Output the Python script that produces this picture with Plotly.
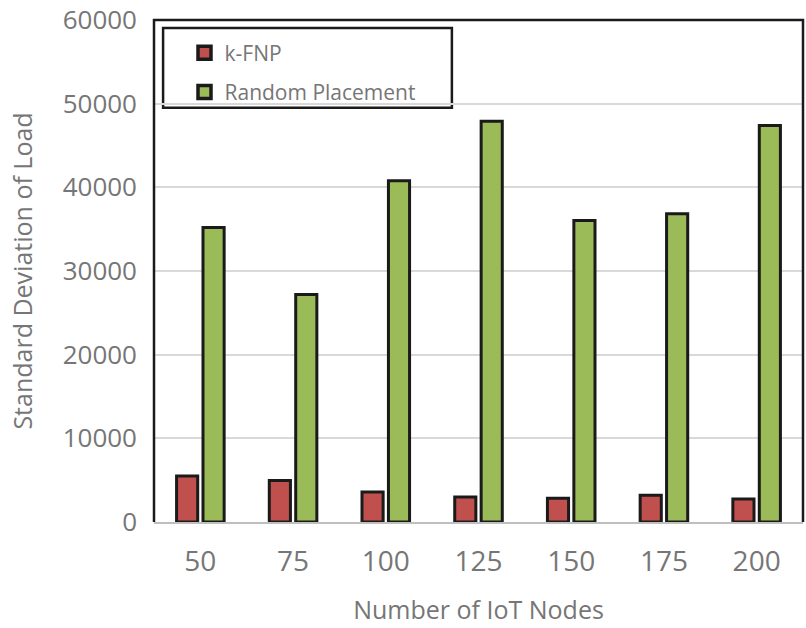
import plotly.graph_objects as go

# Number of IoT nodes on the x axis
nodes = ["50", "75", "100", "125", "150", "175", "200"]

# Standard deviation of load per placement strategy
kfnp = [5500, 4950, 3600, 3000, 2850, 3200, 2750]
random_placement = [35200, 27200, 40800, 47900, 36050, 36850, 47400]

y_ticks = [0, 10000, 20000, 30000, 40000, 50000, 60000]

FONT = "Open Sans"
GRAY = "#767676"
OUTLINE = "#1a1a1a"
RED = "#c0504d"
GREEN = "#9bbb59"

series = [("k-FNP", kfnp, RED, "a"), ("Random Placement", random_placement, GREEN, "b")]

fig = go.Figure()
for name, values, color, group in series:
    fig.add_trace(go.Bar(
        x=nodes, y=values, name=name, legendgroup=group, showlegend=False,
        marker=dict(color=color, line=dict(color=OUTLINE, width=3)),
    ))
# legend entries with large outlined square swatches
for name, values, color, group in series:
    fig.add_trace(go.Scatter(
        x=[None], y=[None], mode="markers", name=name, legendgroup=group,
        marker=dict(symbol="square", size=13, color=color,
                    line=dict(color=OUTLINE, width=3.5)),
    ))

fig.update_layout(
    width=806, height=628,
    margin=dict(l=154, r=3, t=20, b=106),
    plot_bgcolor="white", paper_bgcolor="white",
    barmode="group", bargap=0.43, bargroupgap=0.2,
    font=dict(family=FONT, color=GRAY),
    showlegend=True,
    legend=dict(
        x=0.047, y=0.975, xanchor="left", yanchor="top",
        bgcolor="rgba(0,0,0,0)", borderwidth=0,
        font=dict(family=FONT, size=21, color=GRAY),
        tracegroupgap=9, itemsizing="trace",
    ),
    xaxis=dict(
        automargin=False,
        showgrid=False, showline=True, linecolor="#bfbfbf", linewidth=2,
        ticks="", tickfont=dict(size=28, color=GRAY),
        ticklabelstandoff=13,
        title=dict(text="Number of IoT Nodes", font=dict(size=25, color=GRAY), standoff=24),
    ),
    yaxis=dict(
        automargin=False,
        range=[0, 60000], tickvals=y_ticks, ticktext=[str(v) for v in y_ticks],
        showgrid=True, gridcolor="#d9d9d9", gridwidth=2,
        zeroline=False, showline=False, ticks="",
        tickfont=dict(size=26, color=GRAY), ticklabelstandoff=16,
        ticklabeloverflow="allow",
        title=dict(text="Standard Deviation of Load", font=dict(size=25, color=GRAY), standoff=22),
    ),
    shapes=[
        # frame on left, top and right sides of the plot area
        dict(type="path", xref="paper", yref="paper",
             path="M0,0 L0,1 L1,1 L1,0", line=dict(color=OUTLINE, width=2.5)),
        # legend box
        dict(type="rect", xref="paper", yref="paper",
             x0=0.014, x1=0.459, y0=0.825, y1=0.984,
             line=dict(color=OUTLINE, width=2.5), fillcolor="white", layer="below"),
    ],
)

fig.write_html("out.html")
